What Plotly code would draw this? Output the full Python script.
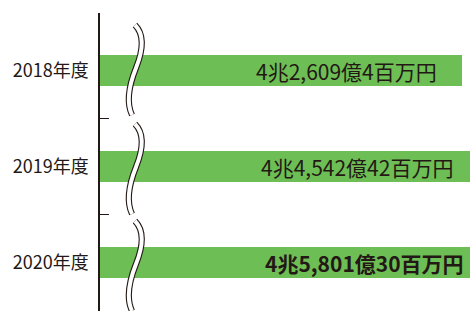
import plotly.graph_objects as go

# ---- data ----
categories = ["2018年度", "2019年度", "2020年度"]
values_oku = [42609.04, 44542.42, 45801.30]          # 億円
value_labels = ["4兆2,609億4百万円", "4兆4,542億42百万円", "4兆5,801億30百万円"]
label_bold = [False, False, True]

# ---- style / layout constants ----
W, H = 470, 311
ML, MR, MT, MB = 100, 0, 13, 0
XMAX = 43550
GREEN = "#6dbe54"
DARK = "#231815"
FONT = "Noto Sans CJK JP"

pos = list(range(len(categories)))

fig = go.Figure()
fig.add_trace(go.Bar(
    x=values_oku, y=pos, orientation="h", width=0.323,
    marker=dict(color=GREEN, line=dict(width=0)),
    hoverinfo="skip", showlegend=False,
))

# value labels: right-aligned just inside the bar end (bars run past the frame)
for v, p, lab, b in zip(values_oku, pos, value_labels, label_bold):
    fig.add_annotation(
        x=v / XMAX, xref="paper", y=p, yref="y",
        text=f"<b>{lab}</b>" if b else lab,
        showarrow=False, xanchor="right", yanchor="middle", xshift=-23,
        font=dict(family=FONT, size=21, color=DARK),
    )

# wavy break marks (decoration) in pixel space -> paper
pw, ph = W - ML - MR, H - MT - MB
def px(x):
    return (x - ML) / pw
def py(y):
    return (H - MB - y) / ph

def wave_path(y0):
    pts = [(135, 0), (148, 13), (136, 43), (124, 73), (132, 90)]
    p = [(px(x), py(y0 + dy)) for x, dy in pts]
    return (f"M {p[0][0]} {p[0][1]} Q {p[1][0]} {p[1][1]} {p[2][0]} {p[2][1]} "
            f"Q {p[3][0]} {p[3][1]} {p[4][0]} {p[4][1]}")

for y0 in [25, 124, 221]:
    path = wave_path(y0)
    fig.add_shape(type="path", path=path, xref="paper", yref="paper",
                  line=dict(color=DARK, width=6.2), layer="above")
    fig.add_shape(type="path", path=path, xref="paper", yref="paper",
                  line=dict(color="white", width=4), layer="above")

fig.update_layout(
    width=W, height=H,
    margin=dict(l=ML, r=MR, t=MT, b=MB, pad=0, autoexpand=False),
    paper_bgcolor="white", plot_bgcolor="white",
    font=dict(family=FONT, color=DARK),
    bargap=0,
    xaxis=dict(range=[0, XMAX], visible=False, fixedrange=True, automargin=False),
    yaxis=dict(
        range=[2.505, -0.599], tickmode="array", tickvals=pos, ticktext=categories,
        ticks="", showgrid=False, zeroline=False, automargin=False,
        showline=True, linecolor=DARK, linewidth=1.5,
        tickfont=dict(family=FONT, size=18, color=DARK),
        ticklabelstandoff=6,
        minor=dict(tickmode="array", tickvals=[p + 0.5 for p in pos[:-1]],
                   ticks="inside", ticklen=9, tickwidth=1.2, tickcolor=DARK,
                   showgrid=False),
    ),
)

fig.write_html("out.html", config={"displayModeBar": False},
               post_script="document.body.style.margin='0';")
